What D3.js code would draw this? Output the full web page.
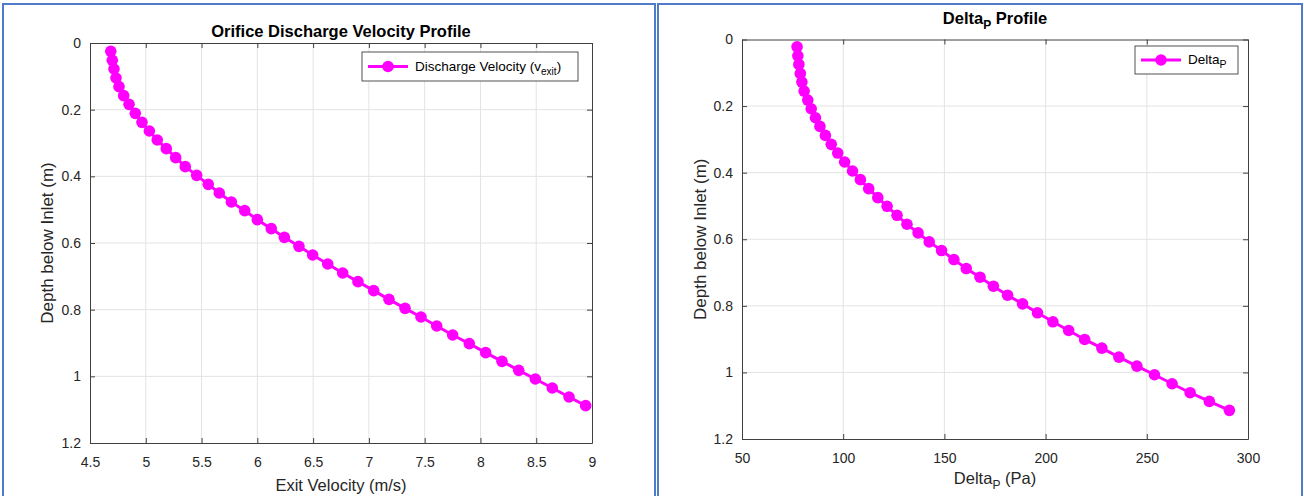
<!DOCTYPE html>
<html>
<head>
<meta charset="utf-8">
<script src="https://cdn.jsdelivr.net/npm/d3@7"></script>
<style>
  html, body { margin: 0; padding: 0; background: #fff; }
  svg { display: block; font-family: "Liberation Sans", Arial, Helvetica, sans-serif; }
</style>
</head>
<body>
<svg id="chart" width="1304" height="496"></svg>
<script>
// ---------- DATA ----------
const depthVel = [0.025, 0.052, 0.078, 0.105, 0.131, 0.158, 0.184, 0.211, 0.238, 0.264,
  0.291, 0.317, 0.344, 0.371, 0.397, 0.424, 0.450, 0.477, 0.503, 0.530,
  0.557, 0.583, 0.610, 0.636, 0.663, 0.690, 0.716, 0.743, 0.769, 0.796,
  0.822, 0.849, 0.876, 0.902, 0.929, 0.955, 0.982, 1.008, 1.035, 1.062, 1.088];
const exitVelocity = [4.686, 4.700, 4.715, 4.733, 4.760, 4.802, 4.850, 4.906, 4.966, 5.032,
  5.103, 5.184, 5.268, 5.354, 5.456, 5.560, 5.659, 5.767, 5.887, 6.000,
  6.125, 6.242, 6.373, 6.496, 6.631, 6.765, 6.902, 7.043, 7.180, 7.324,
  7.467, 7.608, 7.751, 7.900, 8.047, 8.193, 8.343, 8.492, 8.644, 8.794, 8.943];

const depthDP = [0.022, 0.049, 0.075, 0.102, 0.128, 0.155, 0.182, 0.208, 0.235, 0.261,
  0.288, 0.315, 0.341, 0.368, 0.395, 0.421, 0.448, 0.475, 0.501, 0.528,
  0.555, 0.581, 0.608, 0.634, 0.661, 0.688, 0.714, 0.741, 0.768, 0.794,
  0.821, 0.848, 0.874, 0.901, 0.927, 0.954, 0.981, 1.007, 1.034, 1.061, 1.087, 1.114];
const deltaP = [77.2, 77.6, 78.1, 78.8, 79.6, 80.7, 82.5, 84.2, 86.3, 88.5,
  91.2, 94.1, 97.3, 100.7, 104.6, 108.5, 112.6, 117.1, 121.7, 126.6,
  131.5, 137.0, 142.5, 148.6, 154.7, 160.8, 167.6, 174.2, 181.2, 188.6,
  196.0, 203.6, 211.4, 219.3, 227.8, 236.2, 245.1, 253.8, 262.5, 271.4, 280.9, 290.8];

const velTicks = [4.5, 5, 5.5, 6, 6.5, 7, 7.5, 8, 8.5, 9];
const dpTicks = [50, 100, 150, 200, 250, 300];
const depthTicks = [0, 0.2, 0.4, 0.6, 0.8, 1, 1.2];

// ---------- DRAW ----------
const svg = d3.select("#chart");
const MAG = "#ff00ff";
const TXT = "#262626";
const FRAME = "#4f7bc8";

// panel frames
svg.append("rect").attr("x", 3).attr("y", 4).attr("width", 652).attr("height", 500)
  .attr("fill", "none").attr("stroke", FRAME).attr("stroke-width", 2);
svg.append("rect").attr("x", 658).attr("y", 4).attr("width", 644).attr("height", 500)
  .attr("fill", "none").attr("stroke", FRAME).attr("stroke-width", 2);

function fmt(d) { return String(+d.toFixed(2)); }

function panel(cfg) {
  const x = d3.scaleLinear().domain(cfg.xDomain).range([cfg.left, cfg.right]);
  const y = d3.scaleLinear().domain([0, 1.2]).range([cfg.top, cfg.bottom]);
  const g = svg.append("g");

  // grid
  g.append("g").selectAll("line").data(cfg.xTicks.slice(1, -1)).join("line")
    .attr("x1", d => x(d)).attr("x2", d => x(d))
    .attr("y1", cfg.top).attr("y2", cfg.bottom)
    .attr("stroke", "#e3e3e3").attr("stroke-width", 1);
  g.append("g").selectAll("line").data(depthTicks.slice(1, -1)).join("line")
    .attr("y1", d => y(d)).attr("y2", d => y(d))
    .attr("x1", cfg.left).attr("x2", cfg.right)
    .attr("stroke", "#e3e3e3").attr("stroke-width", 1);

  // axes (inward ticks, box)
  const ax = (gen, tr) => g.append("g").attr("transform", tr).call(gen)
    .call(s => s.select(".domain").attr("stroke", "#404040").attr("stroke-width", 1))
    .call(s => s.selectAll(".tick line").attr("stroke", "#404040"))
    .call(s => s.selectAll("text").attr("fill", TXT).attr("font-size", 14)
      .attr("font-family", "'Liberation Sans', Arial, sans-serif"));

  ax(d3.axisBottom(x).tickValues(cfg.xTicks).tickSize(-5).tickSizeOuter(0).tickPadding(cfg.xPad).tickFormat(fmt),
     `translate(0,${cfg.bottom})`);
  ax(d3.axisTop(x).tickValues(cfg.xTicks).tickSize(-5).tickSizeOuter(0).tickFormat(""),
     `translate(0,${cfg.top})`);
  ax(d3.axisLeft(y).tickValues(depthTicks).tickSize(-5).tickSizeOuter(0).tickPadding(9).tickFormat(fmt),
     `translate(${cfg.left},0)`);
  ax(d3.axisRight(y).tickValues(depthTicks).tickSize(-5).tickSizeOuter(0).tickFormat(""),
     `translate(${cfg.right},0)`);

  // series
  const pts = cfg.xs.map((v, i) => [v, cfg.ys[i]]);
  g.append("path").datum(pts)
    .attr("fill", "none").attr("stroke", MAG).attr("stroke-width", 3)
    .attr("d", d3.line().x(d => x(d[0])).y(d => y(d[1])));
  g.append("g").selectAll("circle").data(pts).join("circle")
    .attr("cx", d => x(d[0])).attr("cy", d => y(d[1])).attr("r", 5.8)
    .attr("fill", MAG);

  // title
  const cx = (cfg.left + cfg.right) / 2;
  const t = g.append("text").attr("x", cx).attr("y", cfg.titleY)
    .attr("text-anchor", "middle").attr("font-weight", "bold").attr("font-size", 16.5)
    .attr("fill", "#000");
  cfg.title(t);

  // x label
  const xl = g.append("text").attr("x", cx).attr("y", cfg.xLabelY)
    .attr("text-anchor", "middle").attr("font-size", 16.5).attr("fill", TXT);
  cfg.xLabel(xl);

  // y label
  g.append("text")
    .attr("transform", `translate(${cfg.yLabelX},${(cfg.top + cfg.bottom) / 2}) rotate(-90)`)
    .attr("text-anchor", "middle").attr("font-size", 17).attr("fill", TXT)
    .text("Depth below Inlet (m)");

  // legend
  const L = cfg.legend;
  const lg = g.append("g").attr("transform", `translate(${L.x},${L.y})`);
  lg.append("rect").attr("width", L.w).attr("height", L.h)
    .attr("fill", "#fff").attr("stroke", "#262626").attr("stroke-width", 0.8);
  lg.append("line").attr("x1", 6).attr("x2", 46).attr("y1", L.h / 2).attr("y2", L.h / 2)
    .attr("stroke", MAG).attr("stroke-width", 3);
  lg.append("circle").attr("cx", 26).attr("cy", L.h / 2).attr("r", 5.8).attr("fill", MAG);
  const lt = lg.append("text").attr("x", 53).attr("y", L.h / 2 + 4)
    .attr("font-size", 13.5).attr("fill", "#000");
  L.text(lt);
}

panel({
  left: 90, right: 592, top: 43, bottom: 443,
  xDomain: [4.5, 9], xTicks: velTicks, xPad: 14,
  xs: exitVelocity, ys: depthVel,
  titleY: 37, xLabelY: 491, yLabelX: 53,
  title: t => t.text("Orifice Discharge Velocity Profile"),
  xLabel: t => t.text("Exit Velocity (m/s)"),
  legend: { x: 362, y: 52, w: 216, h: 29,
    text: t => { t.append("tspan").text("Discharge Velocity (v");
                 t.append("tspan").attr("font-size", 10).attr("dy", 4).text("exit");
                 t.append("tspan").attr("dy", -4).text(")"); } }
});

panel({
  left: 742, right: 1248, top: 39.5, bottom: 439,
  xDomain: [50, 300], xTicks: dpTicks, xPad: 14,
  xs: deltaP, ys: depthDP,
  titleY: 24, xLabelY: 484, yLabelX: 706,
  title: t => { t.append("tspan").text("Delta");
                t.append("tspan").attr("font-size", 12).attr("dy", 5).text("P");
                t.append("tspan").attr("dy", -5).text(" Profile"); },
  xLabel: t => { t.append("tspan").text("Delta");
                 t.append("tspan").attr("font-size", 12).attr("dy", 5).text("P");
                 t.append("tspan").attr("dy", -5).text(" (Pa)"); },
  legend: { x: 1135, y: 46, w: 103, h: 28,
    text: t => { t.append("tspan").text("Delta");
                 t.append("tspan").attr("font-size", 10.5).attr("dy", 4).text("P"); } }
});
</script>
</body>
</html>
